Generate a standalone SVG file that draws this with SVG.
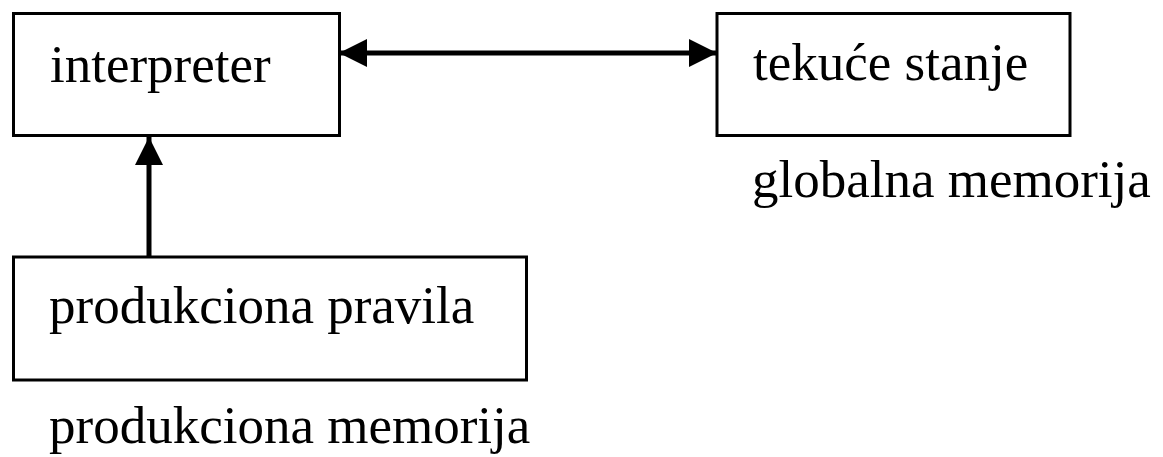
<svg xmlns="http://www.w3.org/2000/svg" width="1163" height="457" viewBox="0 0 1163 457">
<style>
.box{fill:#fff;stroke:#000;stroke-width:3}
.t{font-family:"Liberation Serif","Times New Roman",serif;font-size:53px;fill:#000}
.c{stroke:#000;stroke-width:5;fill:none}
</style>
<defs>
<marker id="ah" markerUnits="userSpaceOnUse" markerWidth="28" markerHeight="28" refX="28" refY="14" orient="auto-start-reverse" viewBox="0 0 28 28">
<path d="M0,0 L28,14 L0,28 Z" fill="#000"/>
</marker>
</defs>
<rect width="1163" height="457" fill="#fff"/>
<g id="interpreter">
<rect class="box" x="13.5" y="13.5" width="326" height="122"/>
<text class="t" x="50" y="82">interpreter</text>
</g>
<g id="tekuce">
<rect class="box" x="717" y="13.5" width="353" height="122"/>
<text class="t" x="753" y="80">tekuće stanje</text>
</g>
<g id="globalna">
<text class="t" x="752" y="197">globalna memorija</text>
</g>
<g id="produkciona">
<rect class="box" x="13.5" y="257" width="513" height="123"/>
<text class="t" x="49" y="323">produkciona pravila</text>
</g>
<g id="prodmem">
<text class="t" x="49" y="443">produkciona memorija</text>
</g>
<g id="connectors">
<line class="c" x1="339" y1="53" x2="717" y2="53" marker-start="url(#ah)" marker-end="url(#ah)"/>
<line class="c" x1="149" y1="257" x2="149" y2="137" marker-end="url(#ah)"/>
</g>
</svg>
